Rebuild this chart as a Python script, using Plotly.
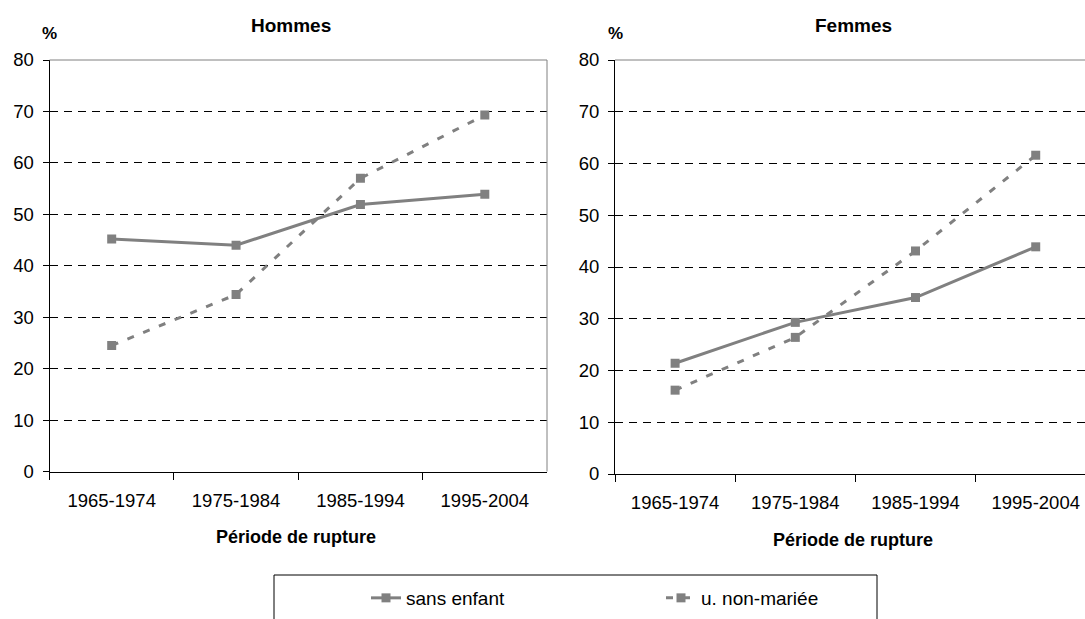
import plotly.graph_objects as go

# ---- data ----
periodes = ["1965-1974", "1975-1984", "1985-1994", "1995-2004"]
hommes_sans_enfant = [45.2, 44.0, 51.9, 53.9]
hommes_non_mariee = [24.5, 34.4, 57.0, 69.3]
femmes_sans_enfant = [21.4, 29.3, 34.1, 43.9]
femmes_non_mariee = [16.2, 26.4, 43.1, 61.6]
series_names = ["sans enfant", "u. non-mariée"]
panel_titles = ["Hommes", "Femmes"]
x_title = "Période de rupture"
y_unit = "%"

W, H = 1085, 619
FONT = "Liberation Sans, Arial, sans-serif"
GRAY = "#808080"

fig = go.Figure()

line_solid = dict(color=GRAY, width=3)
line_dash = dict(color=GRAY, width=3, dash="7px,10px")
marker = dict(symbol="square", size=9, color=GRAY)

fig.add_trace(go.Scatter(x=periodes, y=hommes_sans_enfant, name=series_names[0],
                         mode="lines+markers", line=line_solid, marker=marker,
                         legendgroup="a", xaxis="x", yaxis="y"))
fig.add_trace(go.Scatter(x=periodes, y=hommes_non_mariee, name=series_names[1],
                         mode="lines+markers", line=line_dash, marker=marker,
                         legendgroup="b", xaxis="x", yaxis="y"))
fig.add_trace(go.Scatter(x=periodes, y=femmes_sans_enfant, name=series_names[0],
                         mode="lines+markers", line=line_solid, marker=marker,
                         legendgroup="a", showlegend=False, xaxis="x2", yaxis="y2"))
fig.add_trace(go.Scatter(x=periodes, y=femmes_non_mariee, name=series_names[1],
                         mode="lines+markers", line=line_dash, marker=marker,
                         legendgroup="b", showlegend=False, xaxis="x2", yaxis="y2"))

def yax(domain, anchor):
    return dict(domain=domain, anchor=anchor, range=[0, 80], dtick=10,
                ticks="outside", ticklen=6, tickcolor="black", tickwidth=1,
                showline=True, linecolor="black", linewidth=1,
                showgrid=True, gridcolor="black", gridwidth=1, griddash="8px,6px",
                zeroline=False, tickfont=dict(family=FONT, size=18.5, color="black"),
                ticklabelstandoff=5, automargin=False, fixedrange=True)

def xax(domain, anchor, rng):
    return dict(domain=domain, anchor=anchor, type="category", range=rng,
                tickson="boundaries", ticks="outside", ticklen=7, tickcolor="black",
                showline=True, linecolor="black", linewidth=1, showgrid=False,
                zeroline=False, tickfont=dict(family=FONT, size=18.5, color="black"),
                ticklabelstandoff=12, automargin=False, fixedrange=True)

fig.update_layout(
    width=W, height=H, autosize=False, margin=dict(l=0, r=0, t=0, b=0, pad=0),
    paper_bgcolor="white", plot_bgcolor="white",
    font=dict(family=FONT, color="black"),
    xaxis=xax([49.5 / W, 547 / W], "y", [-0.5, 3.5]),
    yaxis=yax([1 - 471.5 / H, 1 - 60 / H], "x"),
    xaxis2=xax([615 / W, 1.0], "y2", [-0.5, 3.41]),
    yaxis2=yax([1 - 474 / H, 1 - 60 / H], "x2"),
    showlegend=True,
    legend=dict(orientation="h", x=366 / W, xanchor="left", y=1 - 598 / H,
                yanchor="middle", entrywidth=250, entrywidthmode="pixels",
                font=dict(family=FONT, size=19, color="black"),
                bgcolor="rgba(0,0,0,0)", borderwidth=0, traceorder="normal"),
)

shapes = [
    dict(type="line", xref="x domain", yref="y domain", x0=0, x1=1, y0=1, y1=1,
         line=dict(color=GRAY, width=1)),
    dict(type="line", xref="x domain", yref="y domain", x0=1, x1=1, y0=0, y1=1,
         line=dict(color=GRAY, width=1)),
    dict(type="line", xref="x2 domain", yref="y2 domain", x0=0, x1=1, y0=1, y1=1,
         line=dict(color=GRAY, width=1)),
    dict(type="rect", xref="paper", yref="paper", x0=274 / W, x1=877 / W,
         y0=1 - 575 / H, y1=-0.1, line=dict(color="black", width=1),
         fillcolor="rgba(0,0,0,0)"),
]
fig.update_layout(shapes=shapes)

ann = []
def add_text(txt, xc, yc, size):
    ann.append(dict(text="<b>%s</b>" % txt, x=xc / W, y=1 - yc / H, xref="paper", yref="paper",
                    xanchor="center", yanchor="middle", showarrow=False,
                    font=dict(family=FONT, size=size, color="black")))

add_text(panel_titles[0], 291, 25, 19)
add_text(panel_titles[1], 853, 25, 19)
add_text(y_unit, 49, 34, 17)
add_text(y_unit, 615, 34, 17)
add_text(x_title, 296, 537, 18)
add_text(x_title, 853, 540, 18)
fig.update_layout(annotations=ann)

fig.write_html("out.html", config={"displayModeBar": False},
               post_script="document.body.style.margin='0';document.body.style.overflow='hidden';")
